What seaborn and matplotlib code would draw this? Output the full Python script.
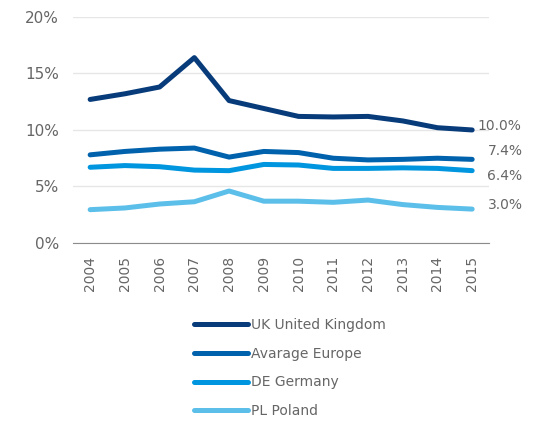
import matplotlib
matplotlib.use("Agg")
import matplotlib.pyplot as plt
import pandas as pd
import seaborn as sns
from matplotlib.ticker import FuncFormatter

years = list(range(2004, 2016))
series_names = ["UK United Kingdom", "Avarage Europe", "DE Germany", "PL Poland"]
uk = [12.7, 13.2, 13.8, 16.4, 12.6, 11.9, 11.2, 11.15, 11.2, 10.8, 10.2, 10.0]
europe = [7.8, 8.1, 8.3, 8.4, 7.6, 8.1, 8.0, 7.5, 7.35, 7.4, 7.5, 7.4]
germany = [6.7, 6.85, 6.75, 6.45, 6.4, 6.95, 6.9, 6.6, 6.6, 6.65, 6.6, 6.4]
poland = [2.95, 3.1, 3.45, 3.65, 4.6, 3.7, 3.7, 3.6, 3.8, 3.4, 3.15, 3.0]
colors = ["#073b7a", "#0062ad", "#0096df", "#5bbfea"]

rows = []
for name, vals in zip(series_names, [uk, europe, germany, poland]):
    for y, v in zip(years, vals):
        rows.append({"year": y, "value": v, "series": name})
df = pd.DataFrame(rows)

sns.set_style("white")
plt.rcParams["font.family"] = ["DejaVu Sans"]
plt.rcParams["lines.solid_capstyle"] = "round"
grey = "#666666"

fig = plt.figure(figsize=(5.54, 4.23), dpi=100)
ax = fig.add_axes([0.132, 0.4255, 0.751, 0.5345])
sns.lineplot(data=df, x="year", y="value", hue="series", palette=colors,
             linewidth=3.6, ax=ax, legend=True)
for line in ax.get_lines():
    line.set_solid_capstyle("round")
    line.set_solid_joinstyle("round")

ax.set_xlim(2003.51, 2015.49)
ax.set_ylim(0, 20)
ax.set_yticks([0, 5, 10, 15, 20])
ax.yaxis.set_major_formatter(FuncFormatter(lambda v, p: f"{v:.0f}%"))
ax.set_xticks(years)
ax.set_xticklabels([str(y) for y in years], rotation=90)
ax.grid(axis="y", color="#e6e6e6", linewidth=1)
ax.set_xlabel("")
ax.set_ylabel("")
for s in ["top", "right", "left"]:
    ax.spines[s].set_visible(False)
ax.spines["bottom"].set_color("#8c8c8c")
ax.tick_params(axis="both", length=0, colors=grey)
ax.tick_params(axis="x", pad=9, labelsize=10)
ax.tick_params(axis="y", pad=10, labelsize=11)

# end-of-line labels, nudged like the original
label_offsets = [(4, 3), (11, 6), (11, -4), (11, 3)]
for vals, (dx, dy) in zip([uk, europe, germany, poland], label_offsets):
    ax.annotate(f"{vals[-1]:.1f}%", xy=(years[-1], vals[-1]), xytext=(dx, dy),
                textcoords="offset points", va="center", ha="left",
                color=grey, fontsize=10, annotation_clip=False)

handles, labels = ax.get_legend_handles_labels()
ax.legend_.remove()
leg = fig.legend(handles, labels, loc="upper left", bbox_to_anchor=(0.328, 0.277),
                 frameon=False, fontsize=10, handlelength=3.9, handletextpad=0.2,
                 labelspacing=1.05, labelcolor=grey)
for line in leg.get_lines():
    line.set_linewidth(3.6)
    line.set_solid_capstyle("round")

fig.savefig("out.png", dpi=100)
